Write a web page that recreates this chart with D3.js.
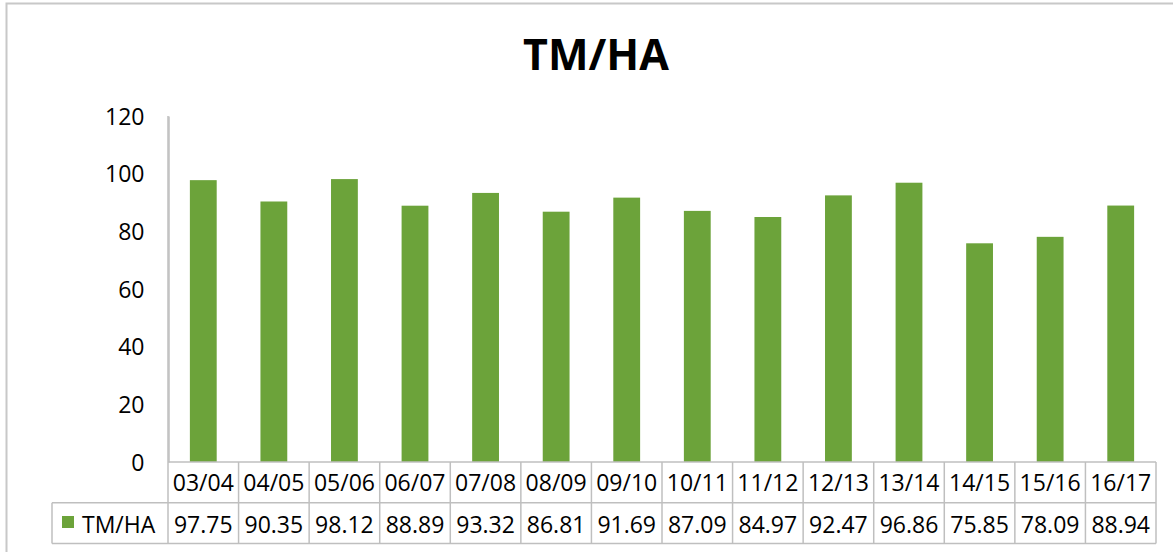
<!DOCTYPE html>
<html>
<head>
<meta charset="utf-8">
<script src="https://cdn.jsdelivr.net/npm/d3@7"></script>
<style>
  body { margin: 0; background: #fff; }
  svg text { font-family: "Open Sans", sans-serif; fill: #000; }
</style>
</head>
<body>
<div id="chart"></div>
<script>
var seasons = ["03/04", "04/05", "05/06", "06/07", "07/08", "08/09", "09/10",
               "10/11", "11/12", "12/13", "13/14", "14/15", "15/16", "16/17"];
var tmha = [97.75, 90.35, 98.12, 88.89, 93.32, 86.81, 91.69,
            87.09, 84.97, 92.47, 96.86, 75.85, 78.09, 88.94];
var yTicks = [0, 20, 40, 60, 80, 100, 120];
var seriesName = "TM/HA";

var W = 1173, H = 552;
var plot = {left: 168, right: 1156, top: 116, bottom: 462};
var rowH = 40.7, legendLeft = 52;
var green = "#6ca33a", grid = "#bfbfbf";

var svg = d3.select("#chart").append("svg")
    .attr("width", W)
    .attr("height", H);

// chart frame
svg.append("rect")
    .attr("x", 6.5).attr("y", 3.5)
    .attr("width", W + 20).attr("height", H + 20)
    .attr("fill", "none").attr("stroke", "#c8c8c8").attr("stroke-width", 2);

svg.append("text")
    .attr("x", 596).attr("y", 70)
    .attr("text-anchor", "middle")
    .style("font-size", "43px").style("font-weight", "bold")
    .text("TM/HA");

var x = d3.scaleBand()
    .domain(seasons)
    .range([plot.left, plot.right])
    .paddingInner(0.62)
    .paddingOuter(0.31);

var xCell = d3.scaleBand()
    .domain(seasons)
    .range([plot.left, plot.right]);

var y = d3.scaleLinear()
    .domain([0, 120])
    .range([plot.bottom, plot.top]);

// bars
svg.append("g").selectAll("rect")
    .data(tmha)
  .enter().append("rect")
    .attr("x", function(d, i) { return x(seasons[i]); })
    .attr("y", function(d) { return y(d); })
    .attr("width", x.bandwidth())
    .attr("height", function(d) { return y(0) - y(d); })
    .attr("fill", green);

// y axis
var yAxis = svg.append("g")
    .attr("transform", "translate(" + (plot.left + 0.5) + ",0)")
    .call(d3.axisLeft(y).tickValues(yTicks).tickSize(0).tickPadding(24));
yAxis.select(".domain").attr("stroke", grid).attr("stroke-width", 1.5);
yAxis.selectAll("text").style("font-size", "23px").attr("dy", "0.36em");

// data table
var row1 = plot.bottom, row2 = plot.bottom + rowH, row3 = plot.bottom + 2 * rowH;
var table = svg.append("g").attr("stroke", grid).attr("stroke-width", 1.5);
table.append("line").attr("x1", plot.left).attr("x2", plot.right).attr("y1", row1).attr("y2", row1);
table.append("line").attr("x1", legendLeft).attr("x2", plot.right).attr("y1", row2).attr("y2", row2);
table.append("line").attr("x1", legendLeft).attr("x2", plot.right).attr("y1", row3).attr("y2", row3);
table.append("line").attr("x1", legendLeft).attr("x2", legendLeft).attr("y1", row2).attr("y2", row3);
table.append("line").attr("x1", plot.left).attr("x2", plot.left).attr("y1", plot.top).attr("y2", row3);
table.selectAll(".vcell")
    .data(seasons)
  .enter().append("line")
    .attr("x1", function(d) { return xCell(d) + xCell.bandwidth(); })
    .attr("x2", function(d) { return xCell(d) + xCell.bandwidth(); })
    .attr("y1", row1).attr("y2", row3);

svg.append("g").selectAll("text")
    .data(seasons)
  .enter().append("text")
    .attr("x", function(d) { return xCell(d) + xCell.bandwidth() / 2; })
    .attr("y", row1 + 29)
    .attr("text-anchor", "middle")
    .style("font-size", "23px")
    .text(function(d) { return d; });

svg.append("g").selectAll("text")
    .data(tmha)
  .enter().append("text")
    .attr("x", function(d, i) { return xCell(seasons[i]) + xCell.bandwidth() / 2; })
    .attr("y", row2 + 30)
    .attr("text-anchor", "middle")
    .style("font-size", "23px")
    .text(function(d) { return d.toFixed(2); });

// legend key
svg.append("rect")
    .attr("x", 62).attr("y", 516)
    .attr("width", 12).attr("height", 12)
    .attr("fill", green);
svg.append("text")
    .attr("x", 82).attr("y", row2 + 30)
    .style("font-size", "23px")
    .text(seriesName);
</script>
</body>
</html>
